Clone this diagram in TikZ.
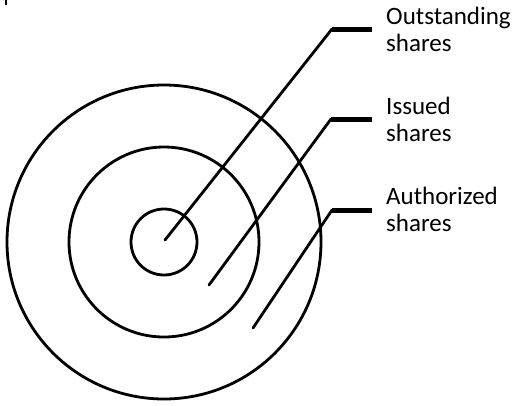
\documentclass[tikz,border=0pt]{standalone}
\usepackage{fontspec}
\setmainfont{Carlito}
\usetikzlibrary{positioning, calc}

\begin{document}
\begin{tikzpicture}[x=1pt, y=-1pt,
    ring/.style={draw, circle, line width=2.8pt, inner sep=0pt},
    leader/.style={line width=2.8pt, line cap=round},
    bar/.style={line width=5pt},
    sharelabel/.style={anchor=north west, inner sep=0pt, align=left,
      font=\fontsize{25}{27}\selectfont}]
  \useasboundingbox (0,0) rectangle (513,405);
  % stray mark at the top edge
  \draw[line width=2pt] (6,0) -- (6,5);
  % the three rings
  \node[ring, minimum size=314pt] (authorized) at (164,242) {};
  \node[ring, minimum size=190pt] (issued) at (164,242) {};
  \node[ring, minimum size=66pt] (outstanding) at (164,242) {};
  % labels
  \node[sharelabel] (outlabel) at (386,7) {Outstanding\\shares};
  \node[sharelabel] (isslabel) at (386,97) {Issued\\shares};
  \node[sharelabel] (authlabel) at (386,187) {Authorized\\shares};
  % leader lines
  \coordinate (outtip) at (165,240);
  \coordinate (outbend) at (332,29);
  \coordinate (outend) at (372,29);
  \coordinate (isstip) at (209,285);
  \coordinate (issbend) at (331,119);
  \coordinate (issend) at (372,119);
  \coordinate (authtip) at (253,328);
  \coordinate (authbend) at (332,210);
  \coordinate (authend) at (372,210);
  \draw[leader] (outtip) -- (outbend);
  \draw[bar] (outbend) -- (outend);
  \draw[leader] (isstip) -- (issbend);
  \draw[bar] (issbend) -- (issend);
  \draw[leader] (authtip) -- (authbend);
  \draw[bar] (authbend) -- (authend);
\end{tikzpicture}
\end{document}
